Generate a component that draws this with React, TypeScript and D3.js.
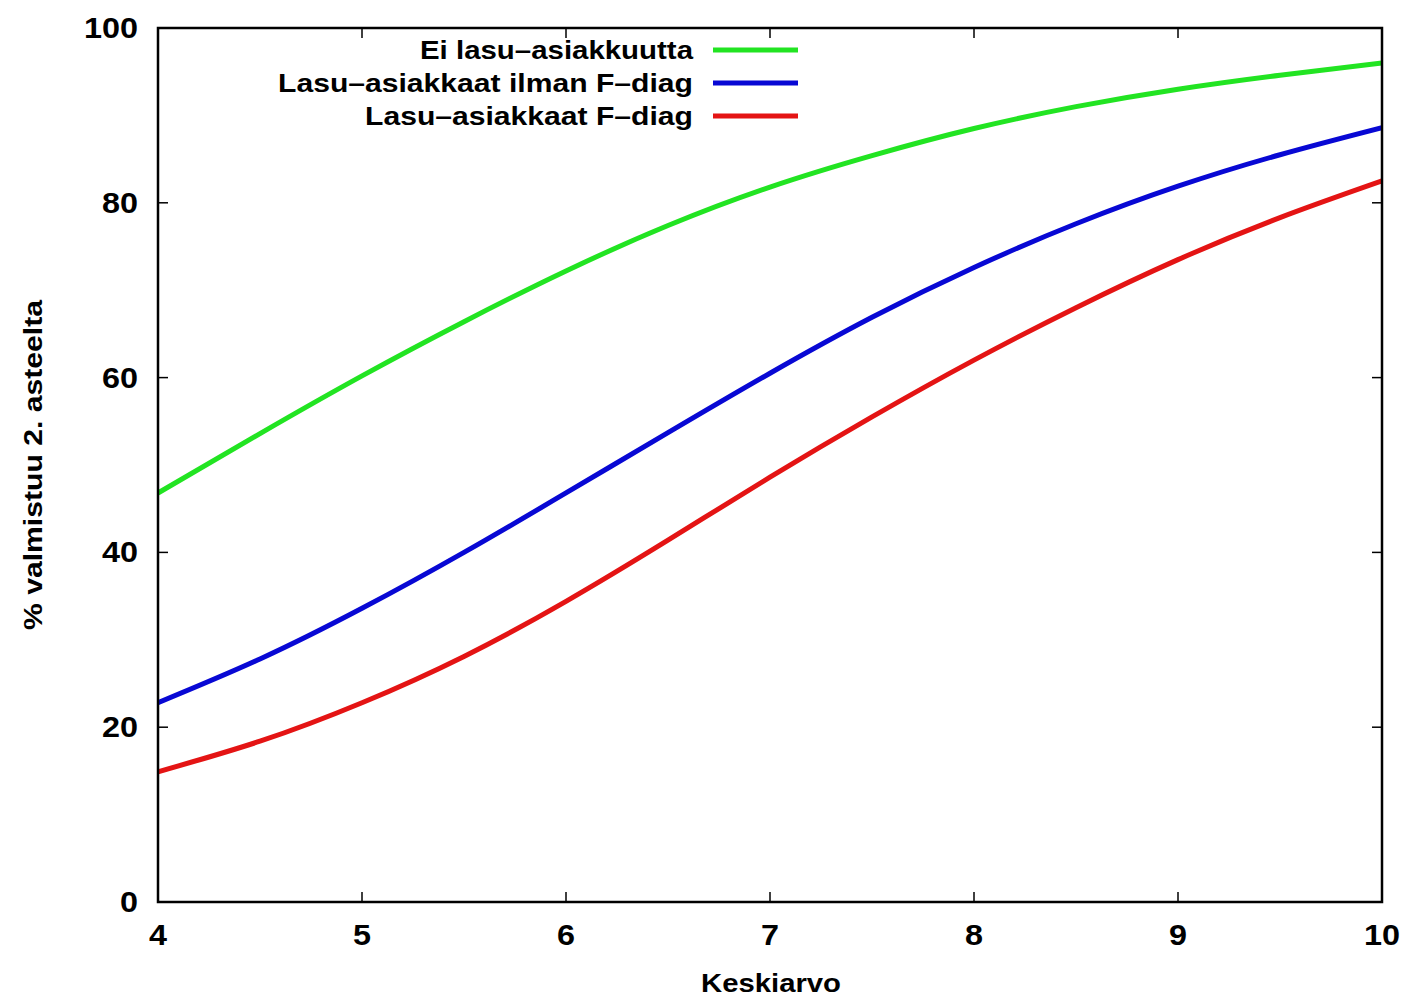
import React from "react";
import * as d3 from "d3";

const xValues = [4, 4.5, 5, 5.5, 6, 6.5, 7, 7.5, 8, 8.5, 9, 9.5, 10];
const greenValues = [46.8, 53.6, 60.2, 66.4, 72.2, 77.4, 81.8, 85.4, 88.5, 91.0, 93.0, 94.6, 96.0];
const blueValues = [22.8, 27.8, 33.6, 40.0, 46.8, 53.7, 60.5, 66.9, 72.6, 77.6, 81.9, 85.5, 88.6];
const redValues = [14.9, 18.4, 22.8, 28.1, 34.4, 41.4, 48.6, 55.5, 62.0, 68.0, 73.5, 78.3, 82.5];

const seriesNames = ["Ei lasu\u2013asiakkuutta", "Lasu\u2013asiakkaat ilman F\u2013diag", "Lasu\u2013asiakkaat F\u2013diag"];
const seriesColors = ["#22e422", "#0808d4", "#e41414"];
const xTicks = [4, 5, 6, 7, 8, 9, 10];
const yTicks = [0, 20, 40, 60, 80, 100];

const xLabel = "Keskiarvo";
const yLabel = "% valmistuu 2. asteelta";

export default function App() {
  const W = 1410, H = 999;
  const left = 158, right = 1382, top = 28, bottom = 902;
  const x = d3.scaleLinear().domain([4, 10]).range([left, right]);
  const y = d3.scaleLinear().domain([0, 100]).range([bottom, top]);
  const allSeries = [greenValues, blueValues, redValues];
  const line = d3
    .line<number>()
    .x((_, i) => x(xValues[i]))
    .y((d) => y(d))
    .curve(d3.curveNatural);

  const font = "'Liberation Sans', Arial, Helvetica, sans-serif";
  const tickLen = 10;
  const legendWidths = [273, 415, 328];
  const legendY = [50, 83, 116];
  const digitW = 18;

  return (
    <svg
      width={W}
      height={H}
      viewBox={`0 0 ${W} ${H}`}
      style={{ position: "absolute", left: 0, top: 0, background: "#fff" }}
    >
      <rect x={0} y={0} width={W} height={H} fill="#fff" />
      {xTicks.map((t) => (
        <g key={"xt" + t}>
          <line x1={x(t)} x2={x(t)} y1={bottom} y2={bottom - tickLen} stroke="#000" strokeWidth={1.5} />
          <line x1={x(t)} x2={x(t)} y1={top} y2={top + tickLen} stroke="#000" strokeWidth={1.5} />
          <text
            x={x(t)}
            y={945}
            textAnchor="middle"
            fontFamily={font}
            fontWeight="bold"
            fontSize={29}
            fill="#000"
            textLength={String(t).length * digitW}
            lengthAdjust="spacingAndGlyphs"
          >
            {t}
          </text>
        </g>
      ))}
      {yTicks.map((t) => (
        <g key={"yt" + t}>
          <line x1={left} x2={left + tickLen} y1={y(t)} y2={y(t)} stroke="#000" strokeWidth={1.5} />
          <line x1={right} x2={right - tickLen} y1={y(t)} y2={y(t)} stroke="#000" strokeWidth={1.5} />
          <text
            x={138}
            y={y(t) + 10}
            textAnchor="end"
            fontFamily={font}
            fontWeight="bold"
            fontSize={29}
            fill="#000"
            textLength={String(t).length * digitW}
            lengthAdjust="spacingAndGlyphs"
          >
            {t}
          </text>
        </g>
      ))}
      <defs>
        <clipPath id="plotclip">
          <rect x={left} y={top} width={right - left} height={bottom - top} />
        </clipPath>
      </defs>
      <g clipPath="url(#plotclip)">
        {allSeries.map((s, i) => (
          <path key={"s" + i} d={line(s) || ""} fill="none" stroke={seriesColors[i]} strokeWidth={5} strokeLinejoin="round" />
        ))}
      </g>
      <rect x={left} y={top} width={right - left} height={bottom - top} fill="none" stroke="#000" strokeWidth={2.5} />
      {seriesNames.map((n, i) => (
        <g key={"lg" + i}>
          <text
            x={693}
            y={legendY[i] + 9}
            textAnchor="end"
            fontFamily={font}
            fontWeight="bold"
            fontSize={26}
            fill="#000"
            textLength={legendWidths[i]}
            lengthAdjust="spacingAndGlyphs"
          >
            {n}
          </text>
          <line x1={713} x2={798} y1={legendY[i]} y2={legendY[i]} stroke={seriesColors[i]} strokeWidth={5} />
        </g>
      ))}
      <text
        x={771}
        y={992}
        textAnchor="middle"
        fontFamily={font}
        fontWeight="bold"
        fontSize={26}
        fill="#000"
        textLength={140}
        lengthAdjust="spacingAndGlyphs"
      >
        {xLabel}
      </text>
      <text
        transform={`translate(42, 465) rotate(-90)`}
        textAnchor="middle"
        fontFamily={font}
        fontWeight="bold"
        fontSize={26}
        fill="#000"
        textLength={330}
        lengthAdjust="spacingAndGlyphs"
      >
        {yLabel}
      </text>
    </svg>
  );
}
